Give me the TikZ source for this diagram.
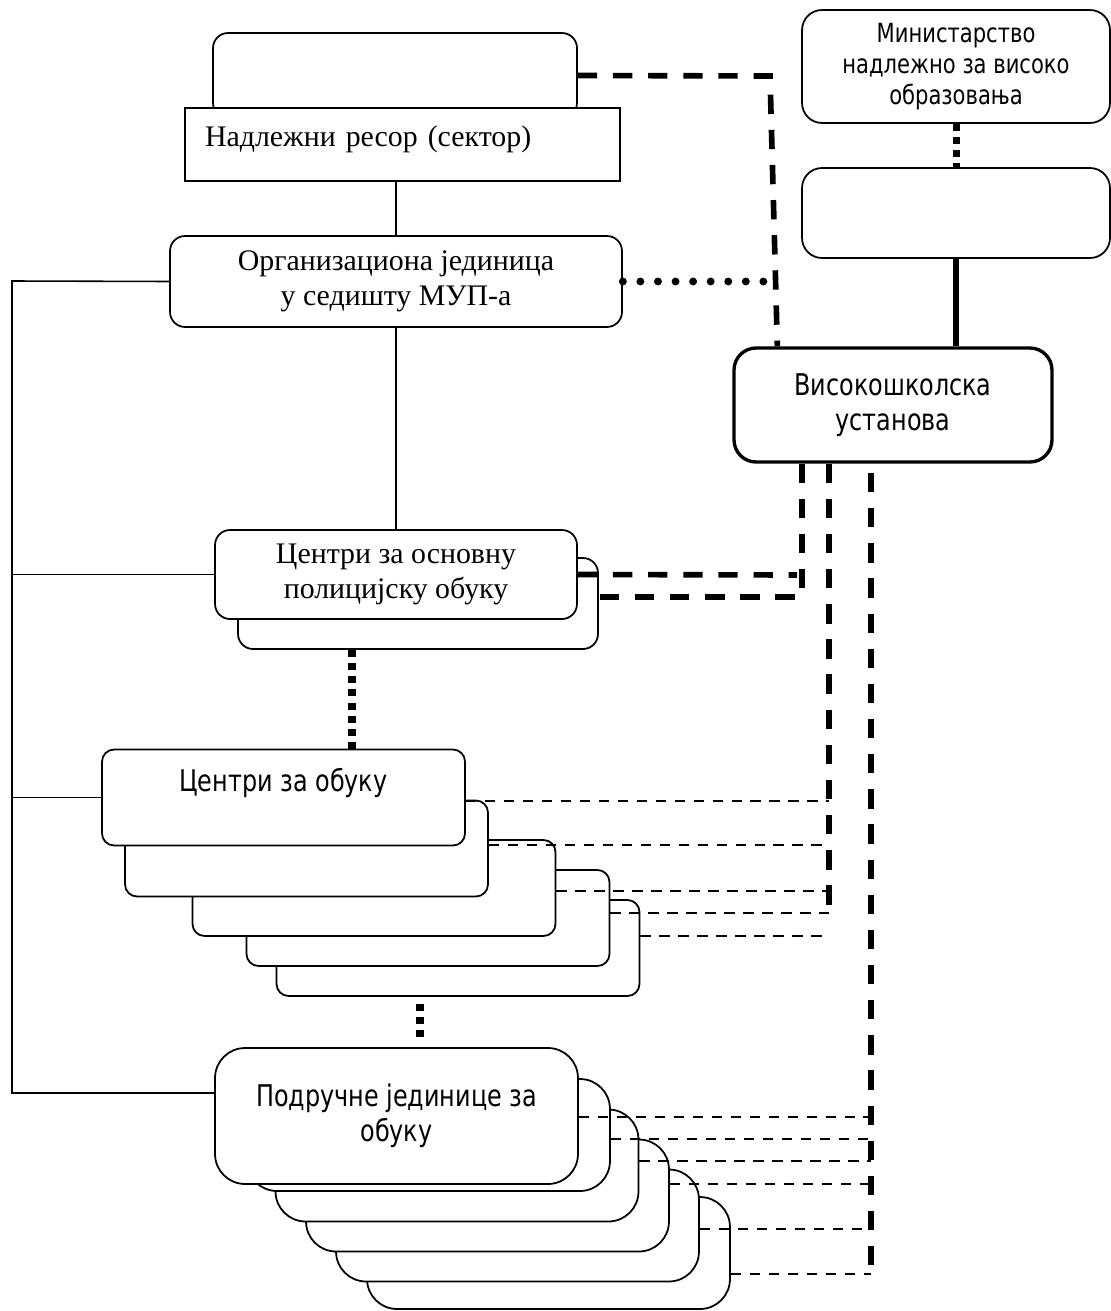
\documentclass[tikz,border=0pt]{standalone}
\usepackage{fontspec}
\setmainfont{Liberation Serif}
\newfontfamily\tahoma[FakeStretch=0.8]{DejaVu Sans}
\usetikzlibrary{positioning}
\tikzset{
  okvir/.style={draw, fill=white, line width=1pt, rounded corners=0.3cm, align=center},
  serifni/.style={font=\fontsize{17}{20}\selectfont},
  sans/.style={font=\tahoma\fontsize{17}{20}\selectfont},
  centar/.style={okvir, rounded corners=0.24cm, minimum width=7.26cm, minimum height=1.92cm},
  jedinica/.style={okvir, rounded corners=0.6cm, minimum width=7.26cm, minimum height=2.24cm},
  jaka/.style={line width=3.2pt, dash pattern=on 11pt off 9pt},
  tanka/.style={line width=0.9pt, dash pattern=on 6pt off 4.8pt},
  tacke/.style={line width=4pt, dash pattern=on 4pt off 3.5pt},
  kruzici/.style={line width=4.5pt, line cap=round, dash pattern=on 0pt off 10pt},
}

\begin{document}
\begin{tikzpicture}[x=0.02cm, y=-0.02cm]
    \useasboundingbox (0,0) rectangle (1111,1311);
    % Resor i organizaciona jedinica
    \node[okvir, minimum width=7.28cm, minimum height=1.7cm] (tb) at (395,75.5) {};
    \node[draw, fill=white, line width=1pt, serifni, minimum height=1.46cm, text depth=10pt,
          text width=7.9cm, inner xsep=0.4cm, align=left] (resor) at (402.5,144.5) {Надлежни ресор (сектор)};
    \node[okvir, serifni, minimum width=9.04cm, minimum height=1.82cm] (org) at (396,281.5)
        {Организациона јединица\\у седишту МУП-а};
    % Ministarstvo i visokoskolska ustanova
    \node[okvir, font=\tahoma\fontsize{15}{17.5}\selectfont, rounded corners=0.4cm,
          minimum width=6.16cm, minimum height=2.26cm] (min) at (956,66.5)
        {Министарство\\надлежно за високо\\образовања};
    \node[okvir, rounded corners=0.4cm, minimum width=6.16cm, minimum height=1.8cm] (emp) at (956,213) {};
    \node[okvir, sans, line width=1.9pt, rounded corners=0.44cm,
          minimum width=6.36cm, minimum height=2.28cm] (vis) at (893,405) {Високошколска\\установа};
    % Centri za osnovnu obuku
    \node[okvir, minimum width=7.2cm, minimum height=1.82cm] (ob2) at (418,603.5) {};
    \node[okvir, serifni, minimum width=7.24cm, minimum height=1.78cm] (ob1) at (396,574.5)
        {Центри за основну\\полицијску обуку};
    % Centri za obuku
    \node[centar] (cb5) at (458,948) {};
    \node[centar] (cb4) at (428,918) {};
    \node[centar] (cb3) at (374,888) {};
    \node[centar] (cb2) at (306.5,848.5) {};
    \node[centar, sans] (cb1) at (283.5,797.5) {Центри за обуку\\\mbox{}};
    % Podrucne jedinice
    \node[jedinica] (pj6) at (548.5,1253) {};
    \node[jedinica] (pj5) at (517.5,1225.5) {};
    \node[jedinica] (pj4) at (487.5,1195.5) {};
    \node[jedinica] (pj3) at (457,1165.5) {};
    \node[jedinica] (pj2) at (428.5,1135) {};
    \node[jedinica, sans, minimum height=2.72cm] (pj1) at (396.5,1116)
        {Подручне јединице за\\обуку};

    % Tacke na linijama
    \coordinate (busT) at (12,281);
    \coordinate (busB) at (12,1093);
    \coordinate (kut) at (770,76);
    \coordinate (v1a) at (797,575);
    \coordinate (v1) at (802,597);
    \coordinate (v2) at (829,918);
    \coordinate (v3top) at (871,473);
    \coordinate (v3) at (871,1275);
    \coordinate (d1) at (352,700);
    \coordinate (d2) at (420,1020);

    % Pune linije
    \draw[line width=1.6pt] (org.north |- resor.south) -- (org.north);
    \draw[line width=0.9pt] (org.south) -- (ob1.north);
    \draw[line width=0.9pt] (org.west) -- (busT) -- (busB) -- (pj1.west |- busB);
    \draw[line width=0.9pt] (busT |- ob1.west) -- (ob1.west);
    \draw[line width=0.9pt] (busT |- cb1.west) -- (cb1.west);
    \draw[line width=3.8pt] (emp.south) -- (emp.south |- vis.north);

    % Isprekidane i tackaste linije
    \draw[jaka] (tb.east) -- (kut) -- ([xshift=0.9cm]vis.north west);
    \draw[kruzici] (org.east) -- (org.east -| 765,0);
    \draw[tacke] (min.south) -- (emp.north);
    \draw[jaka] (ob1.east) -- (v1a);
    \draw[jaka] (vis.south -| v1) -- (v1) -- (ob2.east |- v1);
    \draw[jaka] (vis.south -| v2) -- (v2);
    \draw[jaka] (v3top) -- (v3);
    \draw[tacke] (ob2.south -| d1) -- (cb1.north -| d1);
    \draw[tacke, shorten <=4pt, shorten >=3pt] (cb5.south -| d2) -- (pj1.north -| d2);

    % Tanke veze prema ustanovi
    \draw[tanka] (cb1.east |- 0,801) -- (v2 |- 0,801);
    \draw[tanka] (cb2.east |- 0,845) -- (v2 |- 0,845);
    \draw[tanka] (cb3.east |- 0,891) -- (v2 |- 0,891);
    \draw[tanka] (cb4.east |- 0,913) -- (v2 |- 0,913);
    \draw[tanka] (cb5.east |- 0,936) -- (v2 |- 0,936);
    \draw[tanka] (pj1.east |- 0,1117) -- (v3 |- 0,1117);
    \draw[tanka] (pj2.east |- 0,1139) -- (v3 |- 0,1139);
    \draw[tanka] (pj3.east |- 0,1161) -- (v3 |- 0,1161);
    \draw[tanka] (pj4.east |- 0,1184) -- (v3 |- 0,1184);
    \draw[tanka] (pj5.east |- 0,1229) -- (v3 |- 0,1229);
    \draw[tanka] (pj6.east |- 0,1274) -- (v3 |- 0,1274);
\end{tikzpicture}
\end{document}
